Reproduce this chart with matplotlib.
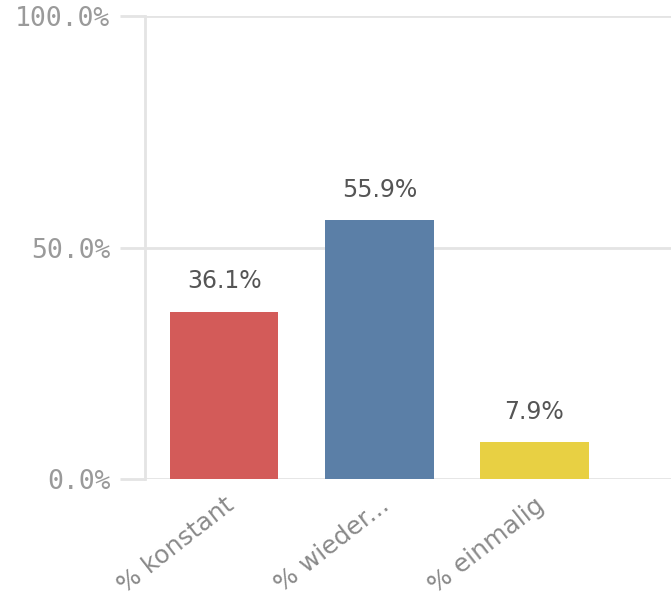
import matplotlib
matplotlib.use("Agg")
import matplotlib.pyplot as plt
from matplotlib.ticker import FuncFormatter

categories = ["% konstant", "% wieder...", "% einmalig"]
values = [36.1, 55.9, 7.9]
colors = ["#d35b59", "#5b7fa7", "#e8d043"]
yticks = [0, 50, 100]

fig = plt.figure(figsize=(6.71, 5.98), dpi=100)
ax = fig.add_axes([145 / 671, 119 / 598, 1 - 145 / 671, (479 - 16) / 598])

grid_c = "#e4e4e4"
x = list(range(len(categories)))
ax.bar(x, values, width=0.7, color=colors, zorder=3)

for xi, v in zip(x, values):
    ax.text(xi, v + 4, f"{v:.1f}%", ha="center", va="bottom",
            fontsize=17, color="#555555", family="DejaVu Sans")

ax.set_xlim(-0.51, 2.88)
ax.set_ylim(0, 100)
ax.set_yticks(yticks)
ax.yaxis.set_major_formatter(FuncFormatter(lambda v, p: f"{v:.1f}%"))
for y in yticks:
    ax.axhline(y, color=grid_c, lw=2, zorder=1)
ax.axvline(-0.51, color=grid_c, lw=2, zorder=1, clip_on=False)

for s in ax.spines.values():
    s.set_visible(False)

ax.tick_params(axis="y", length=18, width=2, color=grid_c, pad=7,
               labelsize=19, labelcolor="#9a9a9a")
for lab in ax.get_yticklabels():
    lab.set_family("DejaVu Sans Mono")
ax.set_xticks(x)
ax.set_xticklabels(categories, rotation=38, ha="right", rotation_mode="anchor",
                   fontsize=18, color="#8a8a8a")
ax.tick_params(axis="x", length=0, pad=10)

fig.savefig("out.png", dpi=100)
